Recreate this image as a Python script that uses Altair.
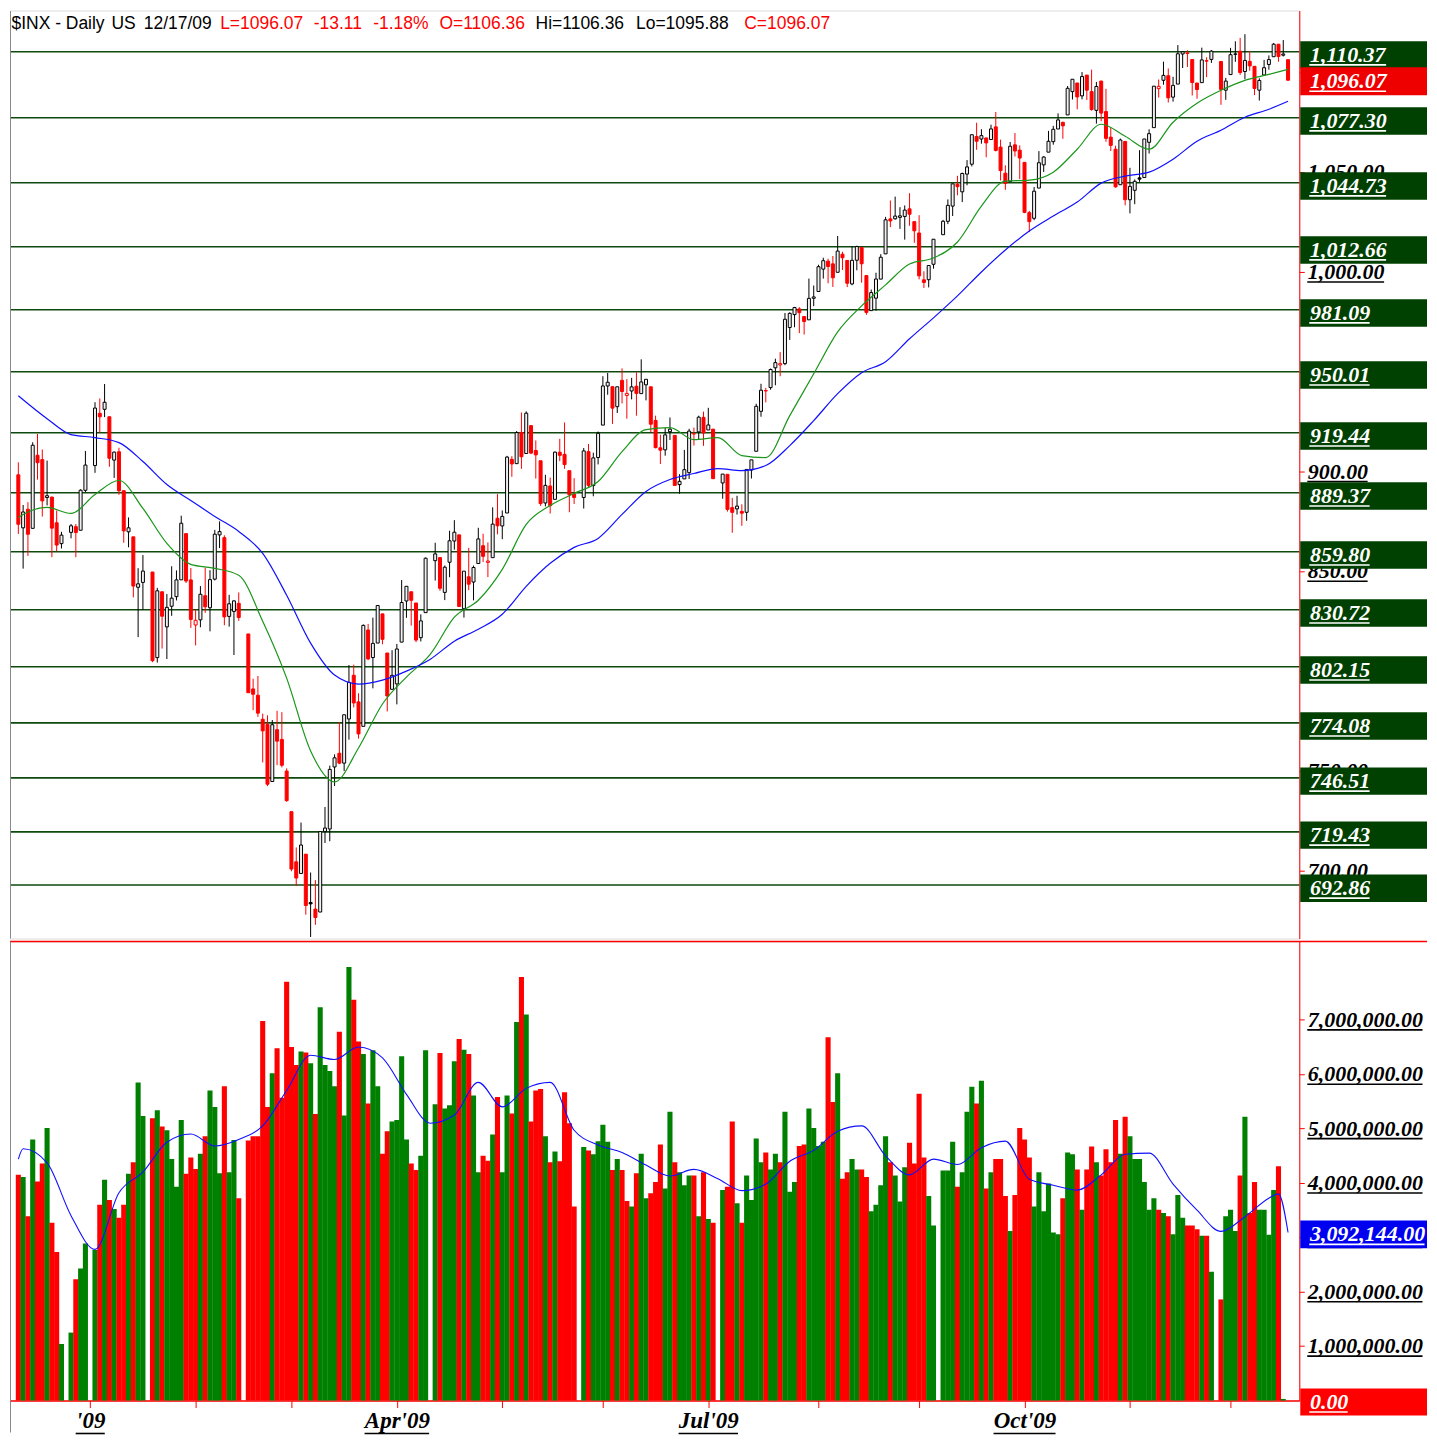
import altair as alt
import numpy as np
import pandas as pd

# ------------------------------------------------------------------
# Values ($INX daily, 11-Dec-2008 .. 17-Dec-2009)
# ------------------------------------------------------------------
market_holidays = ["2008-12-25", "2009-01-01", "2009-01-19", "2009-02-16", "2009-04-10",
                   "2009-05-25", "2009-07-03", "2009-09-07", "2009-11-26"]
close_before_first = 899.24

opens = [
    898.35, 871.79, 881.07, 871.53, 908.16, 905.98, 886.96, 887.20, 874.31, 863.87, 869.51, 872.37, 870.58, 890.59,
    902.99, 929.17, 931.17, 927.45, 905.73, 909.91, 890.40, 869.79, 867.28, 841.99, 844.45, 849.64, 806.77, 839.74, 822.16, 832.50, 837.30, 845.73, 868.89, 845.69,
    823.09, 825.69, 837.77, 831.75, 846.09, 868.24, 866.87, 827.41, 829.91, 833.95, 818.61, 791.06, 787.91, 775.87, 773.25, 744.69, 770.64, 765.76, 749.93,
    729.57, 704.44, 698.60, 708.27, 684.04, 680.76, 679.28, 719.59, 720.89, 751.97, 758.84, 753.88, 776.01, 797.92, 784.58, 772.31, 820.60, 806.81, 814.06, 828.68, 809.07, 790.88,
    793.59, 814.53, 835.13, 839.75, 834.12, 816.76, 829.29, 855.33, 856.88, 839.44, 854.54, 865.18, 868.27, 831.25, 847.26, 844.62, 853.91, 862.82, 854.48, 856.85, 876.59,
    872.74, 879.21, 906.10, 903.95, 919.58, 909.03, 922.99, 910.52, 905.40, 884.24, 892.76, 886.07, 909.67, 908.62, 900.42, 888.68, 887.00, 909.95, 892.96, 907.02,
    923.26, 942.87, 942.51, 932.49, 945.67, 938.12, 940.35, 942.73, 939.04, 943.44, 942.45, 925.60, 911.89, 910.86, 919.96, 918.13, 893.46, 896.31, 899.45, 918.84, 919.86, 927.15,
    920.82, 921.24, 894.27, 898.60, 881.90, 881.28, 880.03, 879.57, 900.77, 910.15, 930.17, 940.56, 942.07, 951.97, 953.40, 954.07, 972.16, 978.63, 981.48, 977.66, 976.01, 986.80,
    990.22, 1001.41, 1005.41, 1004.06, 999.83, 1008.89, 1005.77, 994.00, 1005.86, 1012.23, 998.18, 980.62, 986.88, 996.41, 1009.06, 1026.59, 1026.63, 1027.35, 1027.81, 1031.62, 1025.21,
    1019.52, 996.07, 996.12, 1003.84, 1018.67, 1025.36, 1032.99, 1043.92, 1040.15, 1049.03, 1053.99, 1067.87, 1066.60, 1067.14, 1066.35, 1072.69, 1062.56, 1049.48, 1045.38, 1063.69, 1061.02,
    1054.91, 1029.71, 1026.87, 1042.02, 1053.65, 1060.03, 1065.28, 1071.63, 1074.96, 1078.68, 1090.36, 1094.67, 1088.22, 1098.64, 1090.36, 1080.96, 1095.62, 1080.36, 1067.54, 1061.51, 1043.69, 1065.41,
    1036.18, 1040.92, 1047.14, 1047.30, 1064.95, 1072.31, 1091.86, 1096.04, 1098.31, 1087.59, 1094.13, 1109.22, 1109.44, 1106.44, 1094.66, 1094.86, 1105.83, 1106.49, 1105.47, 1091.07,
    1098.89, 1109.03, 1110.59, 1100.43, 1105.52, 1103.04, 1091.07, 1098.69, 1103.96, 1107.84, 1114.11, 1108.61, 1106.36,
]
highs = [
    904.63, 883.24, 884.63, 914.66, 918.85, 911.02, 905.47, 887.37, 880.44, 869.79, 873.74, 873.70, 891.12, 910.32,
    934.73, 936.63, 943.85, 927.45, 910.00, 911.93, 890.40, 877.02, 867.28, 851.59, 858.13, 849.64, 841.72, 839.74, 838.61, 852.53, 850.45, 877.86, 868.89, 851.66,
    830.78, 842.60, 851.85, 850.55, 870.75, 875.01, 868.05, 838.22, 835.48, 839.43, 818.61, 796.17, 797.58, 778.69, 777.85, 775.49, 780.12, 779.42, 751.27,
    729.57, 711.67, 724.12, 708.27, 699.09, 695.27, 719.60, 731.92, 752.63, 758.29, 774.53, 778.12, 803.04, 803.24, 788.91, 823.37, 823.65, 826.78, 832.98, 828.68, 809.07, 810.48,
    813.62, 845.61, 842.50, 839.75, 834.12, 828.42, 856.91, 864.31, 856.88, 852.93, 870.35, 875.63, 868.27, 850.09, 861.78, 852.87, 871.80, 868.83, 864.48, 882.06, 888.70,
    880.48, 907.85, 907.70, 920.28, 929.58, 930.17, 922.99, 915.57, 905.40, 898.36, 896.97, 910.00, 916.39, 924.60, 900.42, 896.65, 911.76, 913.84, 909.45, 920.02,
    947.77, 949.38, 942.51, 942.47, 951.69, 946.33, 946.92, 949.77, 956.23, 946.30, 942.45, 928.00, 918.44, 921.93, 927.09, 918.13, 898.69, 910.85, 921.42, 922.00, 927.99, 930.01,
    931.92, 921.24, 898.72, 898.60, 886.80, 887.86, 883.57, 901.05, 905.84, 933.95, 943.96, 941.89, 951.62, 956.53, 959.83, 979.42, 979.79, 982.49, 982.35, 977.76, 996.68, 993.18,
    1003.61, 1007.12, 1006.64, 1008.00, 1018.00, 1010.12, 1005.77, 1012.78, 1013.14, 1012.60, 998.18, 991.20, 999.61, 1008.92, 1027.59, 1035.82, 1037.75, 1032.47, 1033.33, 1039.47, 1025.21,
    1028.45, 1000.34, 1003.43, 1016.48, 1026.07, 1036.34, 1044.14, 1048.18, 1049.74, 1056.04, 1068.76, 1074.77, 1071.52, 1067.28, 1073.81, 1080.15, 1066.29, 1053.47, 1065.13, 1069.62, 1063.40,
    1054.91, 1030.60, 1042.58, 1060.55, 1058.02, 1070.67, 1073.21, 1079.46, 1075.30, 1093.17, 1096.56, 1094.67, 1100.17, 1098.64, 1101.36, 1095.21, 1095.83, 1091.75, 1072.48, 1063.26, 1066.83, 1065.41,
    1052.18, 1046.36, 1061.00, 1066.65, 1071.48, 1093.19, 1096.42, 1105.37, 1101.97, 1097.79, 1113.69, 1110.52, 1111.10, 1106.44, 1094.66, 1112.38, 1107.56, 1111.18, 1105.47, 1097.24,
    1112.28, 1115.58, 1117.28, 1119.13, 1110.72, 1103.04, 1097.04, 1106.25, 1108.50, 1114.76, 1114.11, 1116.21, 1106.36,
]
lows = [
    868.73, 851.35, 857.72, 871.53, 895.94, 877.44, 883.02, 857.09, 860.10, 861.44, 866.52, 857.07, 870.58, 889.67,
    899.35, 919.53, 927.28, 902.37, 896.81, 888.31, 864.32, 862.02, 836.93, 817.04, 830.66, 804.47, 804.30, 811.29, 806.07, 827.69, 835.40, 845.73, 844.15, 821.67,
    812.87, 821.98, 829.18, 819.91, 845.42, 861.65, 822.99, 822.30, 808.06, 825.21, 789.17, 780.43, 777.03, 754.25, 742.37, 744.69, 752.89, 751.75, 734.52,
    699.70, 692.30, 698.60, 677.93, 666.79, 672.88, 679.28, 713.85, 714.76, 742.46, 753.37, 749.93, 765.64, 781.82, 766.20, 772.31, 805.48, 791.37, 814.06, 813.43, 779.81, 790.88,
    783.32, 814.53, 826.70, 822.79, 814.53, 814.84, 829.29, 845.35, 840.25, 835.58, 847.04, 860.87, 832.39, 826.83, 840.57, 835.45, 853.91, 854.65, 847.12, 856.85, 868.51,
    866.10, 879.21, 897.34, 903.95, 901.36, 909.03, 908.68, 896.46, 882.80, 882.52, 878.94, 886.07, 905.22, 901.37, 879.61, 883.75, 881.46, 891.87, 887.60, 903.56,
    923.26, 938.46, 923.85, 929.32, 934.13, 926.44, 936.15, 927.97, 939.04, 935.66, 919.65, 911.60, 903.78, 907.94, 915.80, 893.04, 888.86, 896.31, 896.27, 913.03, 916.18, 912.86,
    920.82, 896.42, 886.36, 879.93, 869.32, 878.45, 872.81, 875.32, 896.50, 910.15, 927.45, 934.65, 940.99, 943.22, 947.75, 953.27, 965.95, 972.29, 969.35, 968.65, 976.01, 982.85,
    990.22, 996.68, 994.31, 992.49, 999.83, 1000.99, 992.40, 993.36, 1000.82, 994.60, 978.51, 980.62, 980.62, 996.39, 1009.06, 1022.48, 1026.21, 1021.57, 1016.20, 1023.13, 1014.62,
    996.28, 991.97, 992.25, 1001.65, 1018.67, 1023.97, 1028.04, 1038.40, 1035.00, 1043.42, 1052.87, 1061.20, 1064.27, 1057.46, 1066.35, 1060.39, 1045.85, 1041.17, 1045.38, 1057.83, 1046.47,
    1029.45, 1019.95, 1025.92, 1042.02, 1050.10, 1060.03, 1063.76, 1071.63, 1066.71, 1078.68, 1086.41, 1081.53, 1086.48, 1086.16, 1080.77, 1074.31, 1075.49, 1065.23, 1060.62, 1042.19, 1043.69, 1033.38,
    1029.38, 1033.94, 1045.15, 1047.30, 1059.32, 1072.31, 1087.40, 1093.81, 1084.90, 1085.33, 1094.13, 1102.19, 1102.70, 1088.40, 1086.81, 1094.86, 1097.63, 1104.75, 1083.74, 1086.25,
    1098.89, 1105.29, 1098.74, 1096.52, 1100.83, 1088.61, 1085.89, 1098.69, 1101.34, 1107.84, 1105.35, 1107.96, 1095.88,
]
closes = [
    873.59, 879.73, 868.57, 913.18, 904.42, 885.28, 887.88, 871.63, 863.16, 868.15, 872.80, 869.42, 890.64, 903.25,
    931.80, 927.45, 934.70, 906.65, 909.73, 890.35, 870.26, 871.79, 842.62, 843.74, 850.12, 805.22, 840.24, 827.50, 831.95, 836.57, 845.71, 874.09, 845.14, 825.88,
    825.44, 838.51, 832.23, 845.85, 868.60, 869.89, 827.16, 833.74, 835.19, 826.84, 789.17, 788.42, 778.94, 770.05, 743.33, 773.14, 764.90, 752.83, 735.09,
    700.82, 696.33, 712.87, 682.55, 683.38, 676.53, 719.60, 721.36, 750.74, 756.55, 753.89, 778.12, 794.35, 784.04, 768.54, 822.92, 806.12, 813.88, 832.86, 815.94, 787.53, 797.87,
    811.08, 834.38, 842.50, 835.48, 815.55, 825.16, 856.56, 858.73, 841.50, 852.06, 865.30, 869.60, 832.39, 850.08, 843.55, 851.92, 866.23, 857.51, 855.16, 873.64, 872.81,
    877.52, 907.24, 903.80, 919.53, 907.39, 929.23, 909.24, 908.35, 883.92, 893.07, 882.88, 909.71, 908.13, 903.47, 888.33, 887.00, 910.33, 893.06, 906.83, 919.14,
    942.87, 944.74, 931.76, 942.46, 940.09, 939.14, 942.43, 939.15, 944.89, 946.21, 923.72, 911.97, 910.71, 918.37, 921.23, 893.04, 895.10, 900.94, 920.26, 918.90, 927.23, 919.32,
    923.33, 896.42, 898.72, 881.03, 879.56, 882.68, 879.13, 901.05, 905.84, 932.68, 940.74, 940.38, 951.13, 954.58, 954.07, 976.29, 979.26, 982.18, 979.62, 975.15, 986.75, 987.48,
    1002.63, 1005.65, 1002.72, 997.08, 1010.48, 1007.10, 994.35, 1005.81, 1012.73, 1004.09, 979.73, 989.67, 996.46, 1007.37, 1026.13, 1025.57, 1028.00, 1028.12, 1030.98, 1028.93, 1020.62,
    998.04, 994.75, 1003.24, 1016.40, 1025.39, 1033.37, 1044.14, 1042.73, 1049.34, 1052.63, 1068.76, 1065.49, 1068.30, 1064.66, 1071.66, 1060.87, 1050.78, 1044.38, 1062.98, 1060.61, 1057.08,
    1029.85, 1025.21, 1040.46, 1054.72, 1057.58, 1065.48, 1071.49, 1076.19, 1073.19, 1092.02, 1096.56, 1087.68, 1097.91, 1091.06, 1081.40, 1092.91, 1079.60, 1066.95, 1063.41, 1042.63, 1066.11, 1036.19,
    1042.88, 1045.41, 1046.50, 1066.63, 1069.30, 1093.08, 1093.01, 1098.51, 1087.24, 1093.48, 1109.30, 1110.32, 1109.80, 1094.90, 1091.38, 1106.24, 1105.65, 1110.63, 1091.49, 1095.63,
    1108.86, 1109.24, 1099.92, 1105.98, 1103.25, 1091.94, 1095.95, 1102.35, 1106.41, 1114.11, 1107.93, 1109.18, 1096.07,
]
volume_millions = [
    4.15, 4.11, 3.39, 4.80, 4.03, 4.36, 5.01, 3.27, 2.73, 1.04, 1.25, 2.23, 2.43, 2.89,
    2.77, 3.60, 4.06, 3.69, 3.52, 3.36, 3.60, 4.17, 4.38, 5.85, 5.23, 5.19, 5.34, 5.04, 4.97, 4.44, 3.93, 5.16, 4.17, 4.47,
    4.26, 4.54, 4.86, 5.70, 5.40, 4.18, 5.78, 4.20, 4.79, 3.72, 4.78, 4.86, 4.86, 6.98, 5.40, 6.02, 6.48, 5.57, 7.70,
    6.50, 6.17, 6.42, 6.40, 6.20, 5.27, 7.23, 6.17, 6.06, 5.78, 6.78, 5.24, 7.97, 7.37, 6.60, 6.37, 5.46, 6.44, 5.78, 4.54, 4.95, 5.13,
    5.16, 6.33, 4.80, 4.36, 4.24, 4.50, 6.44, 5.45, 6.39, 5.37, 5.43, 6.24, 6.65, 6.45, 6.37, 5.61, 4.20, 4.50, 4.41, 4.89, 5.58,
    4.20, 5.61, 5.28, 6.96, 7.79, 7.10, 5.13, 5.70, 5.73, 4.86, 4.38, 4.58, 4.40, 5.67, 5.10, 3.57, 4.66, 4.60, 4.53, 4.77,
    5.07, 4.76, 4.24, 4.44, 4.24, 3.67, 3.57, 4.18, 4.54, 3.72, 3.81, 4.02, 4.71, 3.90, 5.31, 4.38, 4.20, 3.96, 4.14, 4.14, 3.39, 4.20,
    3.34, 3.27, 3.87, 3.93, 5.13, 3.63, 3.27, 4.14, 3.69, 4.82, 4.38, 4.56, 4.25, 4.54, 4.38, 5.31, 3.84, 4.02, 4.68, 4.71, 5.37, 5.01,
    4.68, 4.76, 6.68, 5.49, 6.02, 4.08, 4.20, 4.44, 4.25, 4.25, 4.11, 3.48, 3.60, 3.96, 4.86, 4.38, 4.14, 3.66, 4.29, 4.74, 4.36,
    5.64, 4.47, 3.76, 3.22, 4.23, 4.23, 4.76, 3.93, 4.20, 5.31, 5.77, 5.46, 5.88, 3.90, 4.20, 4.44, 4.44, 3.76, 3.12, 3.78, 5.01,
    4.80, 4.47, 3.57, 4.20, 3.48, 3.99, 3.09, 3.06, 3.72, 4.56, 4.53, 4.25, 3.51, 4.25, 4.67, 4.38, 4.14, 4.62, 4.38, 5.16, 4.54, 5.22,
    4.86, 4.44, 4.44, 4.02, 3.51, 3.72, 3.51, 3.45, 3.39, 3.06, 3.78, 3.36, 3.22, 3.22, 3.15, 3.03, 3.03, 2.37, 1.86, 3.39,
    3.51, 3.12, 4.14, 5.22, 3.45, 4.02, 3.51, 3.51, 3.05, 3.87, 4.31, 0.03, 0.00,
]

# moving averages read at 11-Dec-2008, then every Friday from 12-Dec-2008, plus the last day
ma_short = [877, 878.5, 882, 879, 888.5, 895.5, 881.5, 864, 853.5, 851.5, 848, 825, 796.5, 760, 744.5,
            761.5, 783.5, 797, 808.5, 827, 835.5, 851, 873.5, 883, 889, 895, 910, 921, 922, 916, 917,
            908, 907, 928, 949, 970, 983, 993.5, 1004, 1007, 1015, 1033, 1045.5, 1046, 1050, 1061.5,
            1074, 1068, 1061.5, 1075, 1084.5, 1091, 1096, 1099, 1101.5]
ma_long = [938, 936, 926.5, 918.5, 917, 914.5, 905, 893.5, 885.5, 877.5, 870, 859, 838, 814, 798, 793.5,
           795.5, 800, 806, 815, 821, 828.5, 842.5, 854, 862, 866.5, 878.5, 890, 896, 899, 901.5,
           900.5, 903, 913, 925.5, 939, 949.5, 955, 966.5, 977, 988, 1000, 1011, 1020.5, 1028, 1035,
           1044.5, 1048, 1050, 1056.5, 1065.5, 1071, 1077.5, 1081.5, 1085.5]
vol_ma_millions = [4.44, 4.63, 4.37, 3.4, 2.78, 3.82, 4.2, 4.75, 4.9, 4.68, 4.8, 5.05, 5.7, 6.35, 6.27, 6.5,
                   6.3, 5.63, 5.1, 5.25, 5.85, 5.4, 5.74, 5.85, 4.97, 4.7, 4.56, 4.33, 4.13, 4.25, 4.08,
                   3.86, 3.98, 4.4, 4.6, 4.95, 5.05, 4.5, 4.15, 4.44, 4.34, 4.65, 4.77, 4.07, 3.96, 3.87,
                   4.15, 4.53, 4.55, 3.98, 3.5, 3.11, 3.38, 3.72, 3.8, 3.09]

levels = [1110.37, 1077.30, 1044.73, 1012.66, 981.09, 950.01, 919.44, 889.37, 859.80, 830.72,
          802.15, 774.08, 746.51, 719.43, 692.86]
price_ticks = [700, 750, 800, 850, 900, 950, 1000, 1050, 1100]
volume_ticks = [1e6, 2e6, 3e6, 4e6, 5e6, 6e6, 7e6]
last_close = 1096.07
last_vol_ma = 3092144.00
last_volume = 0.00

header_texts = ["$INX - Daily", "US", "12/17/09", "L=1096.07", "-13.11", "-1.18%",
                "O=1106.36", "Hi=1106.36", "Lo=1095.88", "C=1096.07"]
header_colors = ["#000000", "#000000", "#000000", "#ff0000", "#ff0000", "#ff0000",
                 "#ff0000", "#000000", "#000000", "#ff0000"]
quarter_labels = {1: "'09", 4: "Apr'09", 7: "Jul'09", 10: "Oct'09"}

# ------------------------------------------------------------------
# Layout / style
# ------------------------------------------------------------------
W, HP, HV = 1292, 930, 460
BOX_R = W + 128
SLOT_DOMAIN = [-16.7, 250.3]
PX_PER_SLOT = W / (SLOT_DOMAIN[1] - SLOT_DOMAIN[0])
SERIF = dict(font="Liberation Serif", fontStyle="italic", fontWeight="bold")
LABEL_SIZE = 22
HEADER_X = [1.5, 101.6, 134, 210.6, 304.3, 364, 430.3, 526.7, 627.3, 735.8]
ORIGIN = np.datetime64("2009-01-02")

days = pd.bdate_range("2008-12-11", "2009-12-17")
days = days[~days.isin(pd.to_datetime(market_holidays))]
slots = np.busday_count(ORIGIN, days.values.astype("datetime64[D]"))

df = pd.DataFrame({"slot": slots, "open": opens, "high": highs, "low": lows,
                   "close": closes, "volume": np.array(volume_millions) * 1e6})
prev = np.r_[close_before_first, df["close"].values[:-1]]
up = df["close"].values >= prev
df["line_col"] = np.where(up, "#000000", "#ff0000")
df["fill_col"] = np.where(df["close"].values > df["open"].values, "#f0f0f0", df["line_col"].values)
df["vol_col"] = np.where(up, "#008000", "#ff0000")

fridays = pd.date_range("2008-12-12", periods=53, freq="7D")
ma_days = pd.DatetimeIndex(["2008-12-11"]).append(fridays).append(pd.DatetimeIndex(["2009-12-17"]))
ma_df = pd.DataFrame({"slot": np.busday_count(ORIGIN, ma_days.values.astype("datetime64[D]")),
                      "short": ma_short, "long": ma_long})
vma_days = pd.DatetimeIndex(["2008-12-11"]).append(fridays).append(
    pd.DatetimeIndex(["2009-12-15", "2009-12-17"]))
vma_df = pd.DataFrame({"slot": np.busday_count(ORIGIN, vma_days.values.astype("datetime64[D]")),
                       "vma": np.array(vol_ma_millions) * 1e6})

xs = alt.Scale(domain=SLOT_DOMAIN, nice=False, zero=False)
yp = alt.Scale(domain=[666, 1131], nice=False, zero=False)
yv = alt.Scale(domain=[0, 8.44e6], nice=False, zero=False)

EM = {",": 0.25, ".": 0.25, "'": 0.278, "A": 0.667, "p": 0.5, "r": 0.389, "J": 0.5,
      "u": 0.556, "l": 0.278, "O": 0.722, "c": 0.444, "t": 0.278}


def text_w(s, size):
    return size * sum(0.5 if ch.isdigit() else EM.get(ch, 0.5) for ch in s)


def fmt(v):
    return f"{v:,.2f}"


def one_row():
    return alt.Chart(pd.DataFrame({"k": [0]}))


def underline_layers(frame, yscale, yaxis, x0, size, color, dy):
    out = []
    frame = frame.assign(w=[round(text_w(s, size), 1) for s in frame["label"]])
    for w, grp in frame.groupby("w"):
        out.append(alt.Chart(grp[["value", "label"]]).mark_rule(color=color, strokeWidth=1.6, yOffset=dy).encode(
            x=alt.value(x0), x2=alt.value(min(x0 + w, BOX_R - 2)),
            y=alt.Y("value:Q", scale=yscale, axis=yaxis)))
    return out


def axis_text_layers(frame, yscale, yaxis):
    txt = alt.Chart(frame).mark_text(align="left", baseline="middle", color="#000000",
                                     fontSize=LABEL_SIZE, **SERIF).encode(
        x=alt.value(W + 8.5), y=alt.Y("value:Q", scale=yscale, axis=yaxis), text="label:N")
    return [txt] + underline_layers(frame, yscale, yaxis, W + 8, LABEL_SIZE, "#000000", 10)


def box_layers(frame, yscale, yaxis, fill, top, bottom):
    center = (top + bottom) / 2.0
    rect = alt.Chart(frame).mark_rect(fill=fill, yOffset=top, y2Offset=bottom).encode(
        x=alt.value(W + 1), x2=alt.value(BOX_R),
        y=alt.Y("value:Q", scale=yscale, axis=yaxis), y2="value:Q")
    txt = alt.Chart(frame).mark_text(align="left", baseline="middle", dy=center, color="#ffffff",
                                     fontSize=LABEL_SIZE, **SERIF).encode(
        x=alt.value(W + 10.7), y=alt.Y("value:Q", scale=yscale, axis=yaxis), text="label:N")
    return [rect, txt] + underline_layers(frame, yscale, yaxis, W + 10, LABEL_SIZE, "#ffffff", center + 10)


# ------------------------------------------------------------------
# Price panel
# ------------------------------------------------------------------
lv_df = pd.DataFrame({"value": levels, "label": [fmt(v) for v in levels]})
pt_df = pd.DataFrame({"value": price_ticks, "label": [fmt(v) for v in price_ticks]})
lc_df = pd.DataFrame({"value": [last_close], "label": [fmt(last_close)]})

PAX = alt.Axis(orient="right", values=price_ticks, labels=False, ticks=True, tickSize=5,
               tickColor="#ff0000", domainColor="#ff0000", domainWidth=1, grid=False, title=None)

p_layers = []
p_layers.append(alt.Chart(lv_df).mark_rule(color="#0e4a0e", strokeWidth=1.6).encode(
    x=alt.value(0), x2=alt.value(W), y=alt.Y("value:Q", scale=yp, axis=PAX)))
p_layers.append(alt.Chart(df).mark_rule(strokeWidth=1).encode(
    x=alt.X("slot:Q", scale=xs, axis=None),
    y=alt.Y("low:Q", scale=yp, axis=PAX), y2="high:Q",
    stroke=alt.Stroke("line_col:N", scale=None)))
p_layers.append(alt.Chart(df).mark_bar(size=3, strokeWidth=1).encode(
    x=alt.X("slot:Q", scale=xs, axis=None),
    y=alt.Y("open:Q", scale=yp, axis=PAX), y2="close:Q",
    fill=alt.Fill("fill_col:N", scale=None), stroke=alt.Stroke("line_col:N", scale=None)))
p_layers.append(alt.Chart(ma_df).mark_line(color="#1a961a", strokeWidth=1.2, interpolate="monotone").encode(
    x=alt.X("slot:Q", scale=xs, axis=None), y=alt.Y("short:Q", scale=yp, axis=PAX)))
p_layers.append(alt.Chart(ma_df).mark_line(color="#1010ff", strokeWidth=1.2, interpolate="monotone").encode(
    x=alt.X("slot:Q", scale=xs, axis=None), y=alt.Y("long:Q", scale=yp, axis=PAX)))
for txt, col, px in zip(header_texts, header_colors, HEADER_X):
    p_layers.append(one_row().mark_text(
        text=txt, color=col, align="left", baseline="alphabetic", fontSize=17.5,
        font="Liberation Sans").encode(x=alt.value(px), y=alt.value(18.5)))
p_layers += axis_text_layers(pt_df, yp, PAX)
p_layers += box_layers(lv_df, yp, PAX, "#004000", -10.5, 17)
p_layers += box_layers(lc_df, yp, PAX, "#ee0000", -13, 15)
p_layers.append(one_row().mark_rule(color="#888888", strokeWidth=1).encode(
    x=alt.value(0.5), y=alt.value(0.5), y2=alt.value(HP)))

price = alt.layer(*p_layers).properties(width=W, height=HP)

# ------------------------------------------------------------------
# Volume panel
# ------------------------------------------------------------------
month_starts = pd.bdate_range("2009-01-01", "2009-12-31", freq="BMS")
ms_slots = [int(v) for v in np.busday_count(ORIGIN, month_starts.values.astype("datetime64[D]"))]
expr = '""'
for m, s in reversed(list(zip(month_starts.month, ms_slots))):
    if m in quarter_labels:
        expr = f'datum.value == {s} ? "{quarter_labels[m]}" : {expr}'

XAX = alt.Axis(values=ms_slots, labelExpr=expr, tickColor="#ff0000", tickSize=7,
               domainColor="#ff0000", domainWidth=1.5, labelFont="Liberation Serif",
               labelFontStyle="italic", labelFontWeight="bold", labelFontSize=23,
               labelColor="#000000", labelPadding=2, labelOverlap=False, labelFlush=False,
               grid=False, title=None)
VAX = alt.Axis(orient="right", values=volume_ticks, labels=False, ticks=True, tickSize=5,
               tickColor="#ff0000", domainColor="#ff0000", domainWidth=1, grid=False, title=None)

ql = [(s, quarter_labels[m]) for m, s in zip(month_starts.month, ms_slots) if m in quarter_labels]
ul_df = pd.DataFrame({
    "u1": [s - text_w(t, 23) / 2 / PX_PER_SLOT for s, t in ql],
    "u2": [s + text_w(t, 23) / 2 / PX_PER_SLOT for s, t in ql]})

vt_df = pd.DataFrame({"value": volume_ticks, "label": [fmt(v) for v in volume_ticks]})
vma_last_df = pd.DataFrame({"value": [last_vol_ma], "label": [fmt(last_vol_ma)]})
vol_last_df = pd.DataFrame({"value": [last_volume], "label": [fmt(last_volume)]})

v_layers = []
v_layers.append(alt.Chart(df).mark_bar(size=5.1, strokeWidth=0).encode(
    x=alt.X("slot:Q", scale=xs, axis=XAX),
    y=alt.Y("volume:Q", scale=yv, axis=VAX),
    fill=alt.Fill("vol_col:N", scale=None)))
v_layers.append(alt.Chart(vma_df).mark_line(color="#1010ff", strokeWidth=1.1, interpolate="monotone").encode(
    x=alt.X("slot:Q", scale=xs, axis=XAX), y=alt.Y("vma:Q", scale=yv, axis=VAX)))
v_layers.append(alt.Chart(ul_df).mark_rule(color="#000000", strokeWidth=1.6).encode(
    x=alt.X("u1:Q", scale=xs, axis=XAX), x2="u2:Q", y=alt.value(HV + 33)))
v_layers.append(one_row().mark_rule(color="#ff0000", strokeWidth=1.5).encode(
    x=alt.value(0), x2=alt.value(BOX_R), y=alt.value(0)))
v_layers += axis_text_layers(vt_df, yv, VAX)
v_layers += box_layers(vma_last_df, yv, VAX, "#0000f0", -12, 16)
v_layers += box_layers(vol_last_df, yv, VAX, "#ff0000", -12, 15)
v_layers.append(one_row().mark_rule(color="#888888", strokeWidth=1).encode(
    x=alt.value(0.5), y=alt.value(0), y2=alt.value(HV + 32)))

volume = alt.layer(*v_layers).properties(width=W, height=HV)

chart = alt.vconcat(price, volume, spacing=0, padding=0).configure_view(stroke=None).configure(
    background="#ffffff")
chart.save("out.html", embed_options={"renderer": "svg", "actions": False})
